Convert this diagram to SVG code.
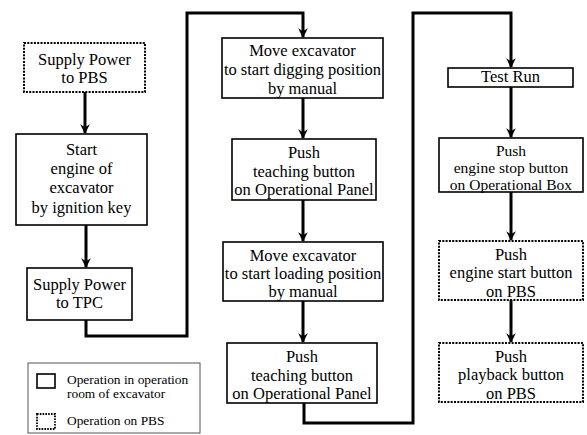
<svg xmlns="http://www.w3.org/2000/svg" width="587" height="435" viewBox="0 0 587 435">
<style>
.box{fill:#fff;stroke:#000;stroke-width:1.6}
.dot{fill:#fff;stroke:#000;stroke-width:2;stroke-dasharray:2 1.3}
.t{font-family:'Liberation Serif','Times New Roman',serif;font-size:16.5px;fill:#000;text-anchor:middle}
.ts{font-size:15.5px}
.lt{font-family:'Liberation Serif','Times New Roman',serif;font-size:13.4px;fill:#000}
.c{fill:none;stroke:#000;stroke-width:3;stroke-linejoin:miter}
</style>
<defs>
<marker id="ah" viewBox="0 0 10 10" refX="9" refY="5" markerWidth="3.2" markerHeight="3.2" orient="auto" markerUnits="strokeWidth">
<path d="M0,0 L10,5 L0,10 L3,5 Z" fill="#000"/>
</marker>
</defs>
<rect width="587" height="435" fill="#fff"/>
<g id="connectors">
<path class="c" d="M85,92 V133" marker-end="url(#ah)"/>
<path class="c" d="M86,225 V267" marker-end="url(#ah)"/>
<path class="c" d="M86,320 V336 H187 V13 H303 V37" marker-end="url(#ah)"/>
<path class="c" d="M303,98 V138" marker-end="url(#ah)"/>
<path class="c" d="M303,200 V241" marker-end="url(#ah)"/>
<path class="c" d="M303,301 V342" marker-end="url(#ah)"/>
<path class="c" d="M304,403 V423 H413 V13 H511 V67" marker-end="url(#ah)"/>
<path class="c" d="M511,87 V137" marker-end="url(#ah)"/>
<path class="c" d="M511,192 V240" marker-end="url(#ah)"/>
<path class="c" d="M511,300 V342" marker-end="url(#ah)"/>
</g>
<g id="n1">
<rect class="dot" x="24" y="43" width="121" height="49"/>
<text class="t" x="84.5" y="65">Supply Power</text>
<text class="t" x="84.5" y="83">to PBS</text>
</g>
<g id="n2">
<rect class="box" x="16" y="134" width="131" height="91"/>
<text class="t" x="81.5" y="155">Start</text>
<text class="t" x="81.5" y="174">engine of</text>
<text class="t" x="81.5" y="193">excavator</text>
<text class="t" x="81.5" y="213">by ignition key</text>
</g>
<g id="n3">
<rect class="box" x="27" y="268" width="105" height="52"/>
<text class="t" x="79.5" y="290">Supply Power</text>
<text class="t" x="79.5" y="308">to TPC</text>
</g>
<g id="n4">
<rect class="box" x="222" y="38" width="161" height="60"/>
<text class="t" x="302.5" y="56">Move excavator</text>
<text class="t" x="302.5" y="75">to start digging position</text>
<text class="t" x="302.5" y="94">by manual</text>
</g>
<g id="n5">
<rect class="box" x="232" y="139" width="144" height="61"/>
<text class="t" x="304" y="158">Push</text>
<text class="t" x="304" y="177">teaching button</text>
<text class="t" x="304" y="195">on Operational Panel</text>
</g>
<g id="n6">
<rect class="box" x="223" y="242" width="160" height="59"/>
<text class="t" x="303" y="261">Move excavator</text>
<text class="t" x="303" y="279">to start loading position</text>
<text class="t" x="303" y="297">by manual</text>
</g>
<g id="n7">
<rect class="box" x="227" y="343" width="150" height="60"/>
<text class="t" x="302" y="362">Push</text>
<text class="t" x="302" y="381">teaching button</text>
<text class="t" x="302" y="399">on Operational Panel</text>
</g>
<g id="n8">
<rect class="box" x="448" y="68" width="125" height="19"/>
<text class="t" x="510.5" y="82">Test Run</text>
</g>
<g id="n9">
<rect class="box" x="439" y="138" width="144" height="54"/>
<text class="t ts" x="511" y="155.5">Push</text>
<text class="t ts" x="511" y="172.5">engine stop button</text>
<text class="t ts" x="511" y="189.5">on Operational Box</text>
</g>
<g id="n10">
<rect class="dot" x="439" y="241" width="144" height="59"/>
<text class="t" x="511" y="260">Push</text>
<text class="t" x="511" y="278">engine start button</text>
<text class="t" x="511" y="297">on PBS</text>
</g>
<g id="n11">
<rect class="dot" x="439" y="343" width="144" height="59"/>
<text class="t" x="511" y="362">Push</text>
<text class="t" x="511" y="380">playback button</text>
<text class="t" x="511" y="399">on PBS</text>
</g>
<g id="legend">
<rect x="28" y="363" width="172" height="70" fill="#fff" stroke="#555" stroke-width="1"/>
<rect x="37" y="374" width="18" height="14" fill="none" stroke="#000" stroke-width="1.6"/>
<rect x="37" y="414" width="18" height="15" fill="none" stroke="#000" stroke-width="1.8" stroke-dasharray="1.6 1.2"/>
<text class="lt" x="67" y="384">Operation in operation</text>
<text class="lt" x="67" y="398">room of excavator</text>
<text class="lt" x="67" y="425">Operation on PBS</text>
</g>
</svg>
